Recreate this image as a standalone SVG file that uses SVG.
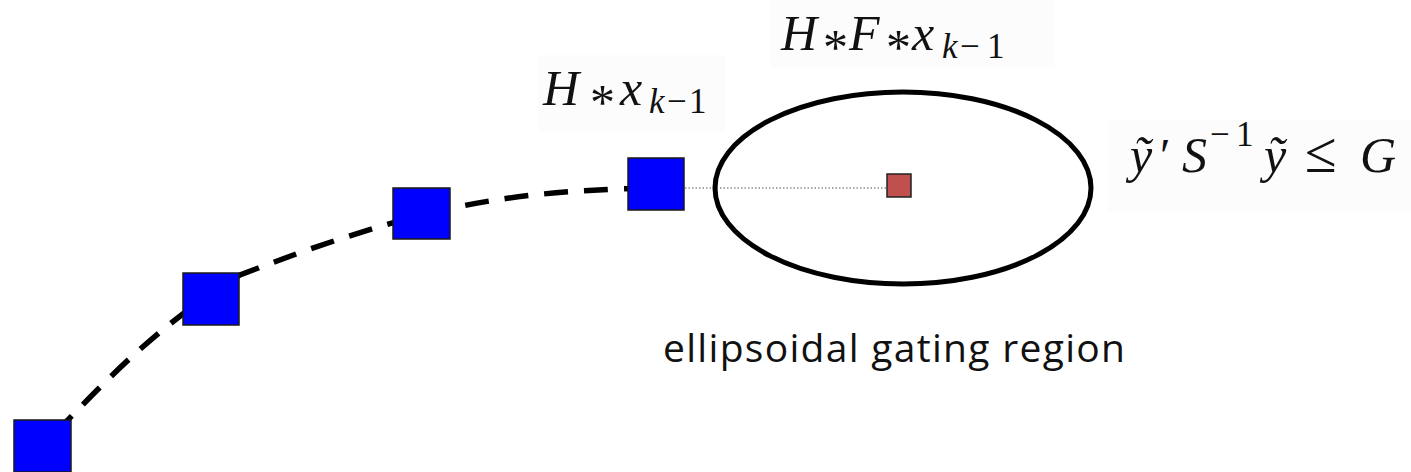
<svg xmlns="http://www.w3.org/2000/svg" width="1411" height="472" viewBox="0 0 1411 472">
<style>
.bg{fill:#fcfcfc;stroke:none}
.m{font-family:"Liberation Serif","Times New Roman",serif;fill:#111}
.i{font-style:italic}
.blue{fill:#0000ff;stroke:#1a1a1a;stroke-width:1.5}
.red{fill:#c0504d;stroke:#222;stroke-width:1.5}
.lbl{font-family:"Open Sans","Noto Sans",sans-serif;fill:#111}
</style>
<rect width="1411" height="472" fill="#ffffff"/>
<g id="formula-bgs">
<rect class="bg" x="538" y="55" width="187" height="77"/>
<rect class="bg" x="770" y="0" width="285" height="68"/>
<rect class="bg" x="1108" y="120" width="303" height="92"/>
</g>
<g id="connectors">
<path d="M55,433 C100,388 150,330 240,275 C300,252 350,234 421,215 C500,196 560,190 656,188" fill="none" stroke="#000" stroke-width="5.5" stroke-dasharray="24 16"/>
<line x1="685" y1="188" x2="887" y2="188" stroke="#555" stroke-width="1" stroke-dasharray="1.5 2"/>
</g>
<g id="gate">
<ellipse cx="903" cy="188" rx="188" ry="96" fill="none" stroke="#000" stroke-width="5"/>
</g>
<g id="p1"><rect class="blue" x="14" y="420" width="57" height="52"/></g>
<g id="p2"><rect class="blue" x="183" y="273" width="56" height="52"/></g>
<g id="p3"><rect class="blue" x="393" y="188" width="57" height="51"/></g>
<g id="p4"><rect class="blue" x="628" y="158" width="56" height="52"/></g>
<g id="pred"><rect class="red" x="887" y="174" width="24" height="23"/></g>
<g id="f1">
<text class="m" font-size="50" y="105"><tspan class="i" x="543">H</tspan><tspan x="590" dy="14">*</tspan><tspan class="i" x="620" dy="-14">x</tspan></text>
<text class="m" font-size="35" y="113"><tspan class="i" x="649">k</tspan><tspan x="667">−</tspan><tspan x="689">1</tspan></text>
</g>
<g id="f2">
<text class="m" font-size="50" y="50"><tspan class="i" x="781">H</tspan><tspan x="823" dy="14">*</tspan><tspan class="i" x="849" dy="-14">F</tspan><tspan x="886" dy="14">*</tspan><tspan class="i" x="912" dy="-14">x</tspan></text>
<text class="m" font-size="35" y="58"><tspan class="i" x="942">k</tspan><tspan x="960">−</tspan><tspan x="987">1</tspan></text>
</g>
<g id="f3">
<text class="m" font-size="50" y="172"><tspan class="i" x="1130">ỹ</tspan><tspan x="1160" font-size="48">′</tspan><tspan class="i" x="1182">S</tspan><tspan x="1264" class="i">ỹ</tspan><tspan x="1305" font-size="58">≤</tspan><tspan class="i" x="1360">G</tspan></text>
<text class="m" font-size="35" y="146"><tspan x="1210">−</tspan><tspan x="1236">1</tspan></text>
</g>
<g id="label">
<text class="lbl" x="663" y="362" font-size="39" textLength="462" lengthAdjust="spacing">ellipsoidal gating region</text>
</g>
</svg>
